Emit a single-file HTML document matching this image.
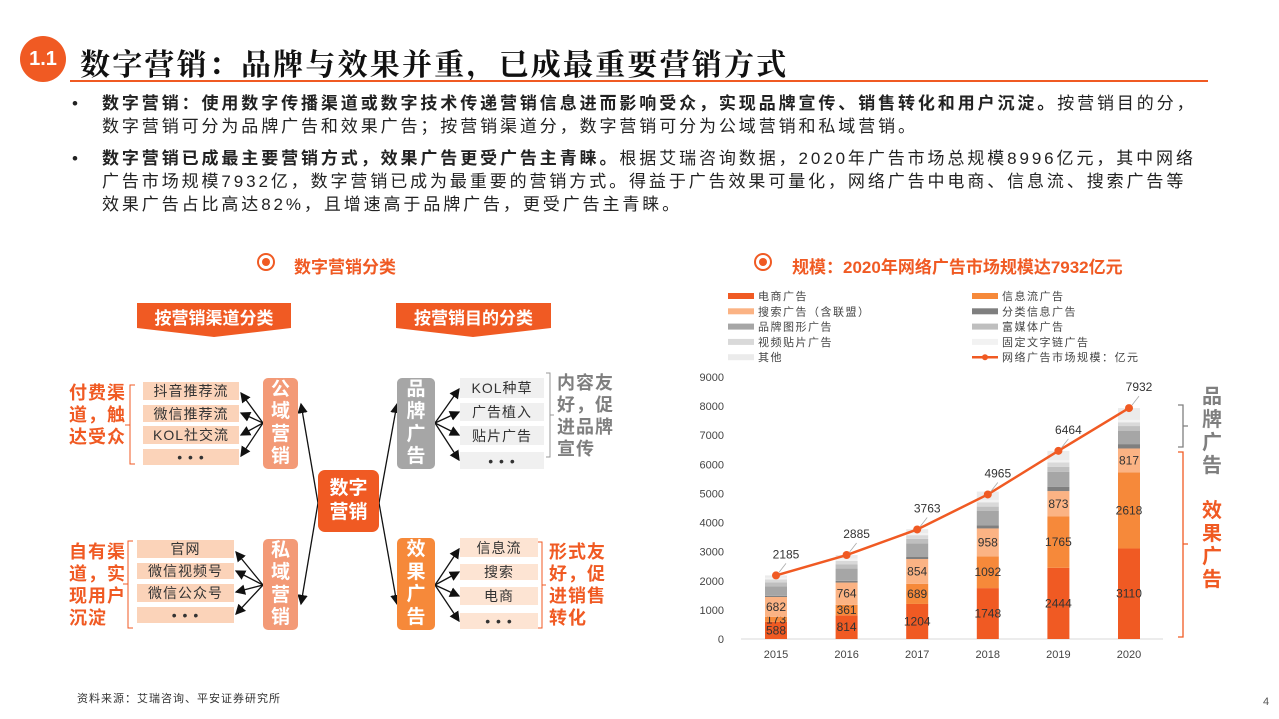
<!DOCTYPE html>
<html><head><meta charset="utf-8">
<style>
*{margin:0;padding:0;box-sizing:border-box}
body{width:1279px;height:719px;background:#fff;position:relative;overflow:hidden;font-family:"Liberation Sans","Noto Sans CJK SC",sans-serif;color:#222}
.a{position:absolute;white-space:nowrap}
.hdr{font-family:"Liberation Sans","Noto Serif CJK SC",serif}
.row{position:absolute;background:#fbd3b9;font-size:14px;text-align:center;color:#333;letter-spacing:1px;display:flex;align-items:center;justify-content:center}
.rowg{background:#f0f0f0}
.vbox{position:absolute;color:#fff;font-weight:bold;font-size:19px;line-height:20px;display:flex;flex-direction:column;align-items:center;justify-content:space-evenly;border-radius:5px}
.side{position:absolute;font-weight:bold;font-size:18px;line-height:22px;letter-spacing:1px}
.bl{font-size:17px;letter-spacing:2.9px;line-height:23px}
.dot{position:absolute;left:-30px;top:0}
</style></head><body>
<div class="a" style="left:20px;top:36px;width:46px;height:46px;border-radius:50%;background:#f05a23;color:#fff;font-weight:bold;font-size:20px;text-align:center;line-height:46px">1.1</div>
<div class="a hdr" style="left:80px;top:40px;font-size:30px;font-weight:bold;letter-spacing:2.2px;color:#111">数字营销：品牌与效果并重，已成最重要营销方式</div>
<div class="a" style="left:70px;top:80px;width:1138px;height:2px;background:#f05a23"></div>

<div class="a" style="left:102px;top:92px">
<div class="bl"><span class="dot">•</span><b>数字营销：使用数字传播渠道或数字技术传递营销信息进而影响受众，实现品牌宣传、销售转化和用户沉淀。</b>按营销目的分，</div>
<div class="bl">数字营销可分为品牌广告和效果广告；按营销渠道分，数字营销可分为公域营销和私域营销。</div>
</div>
<div class="a" style="left:102px;top:147px">
<div class="bl"><span class="dot">•</span><b>数字营销已成最主要营销方式，效果广告更受广告主青睐。</b>根据艾瑞咨询数据，2020年广告市场总规模8996亿元，其中网络</div>
<div class="bl">广告市场规模7932亿，数字营销已成为最重要的营销方式。得益于广告效果可量化，网络广告中电商、信息流、搜索广告等</div>
<div class="bl">效果广告占比高达82%，且增速高于品牌广告，更受广告主青睐。</div>
</div>

<div class="a" style="left:257px;top:253px;width:18px;height:18px;border:2px solid #f05a23;border-radius:50%"><div style="margin:3px;width:8px;height:8px;border-radius:50%;background:#f05a23"></div></div>
<div class="a" style="left:294px;top:253px;font-size:17px;font-weight:bold;color:#f05a23">数字营销分类</div>
<div class="a" style="left:754px;top:253px;width:18px;height:18px;border:2px solid #f05a23;border-radius:50%"><div style="margin:3px;width:8px;height:8px;border-radius:50%;background:#f05a23"></div></div>
<div class="a" style="left:792px;top:253px;font-size:17px;font-weight:bold;color:#f05a23">规模：2020年网络广告市场规模达7932亿元</div>

<svg class="a" style="left:0;top:0" width="700" height="719">
<defs><marker id="ar" markerWidth="8" markerHeight="8" refX="7" refY="4" orient="auto"><path d="M0,0L8,4L0,8z" fill="#111"/></marker></defs>
<polygon points="137,303 291,303 291,328 214,337 137,328" fill="#f05a23"/>
<polygon points="396,303 551,303 551,328 473,337 396,328" fill="#f05a23"/>
<g stroke="#111" stroke-width="1.3" fill="none" marker-end="url(#ar)">
<line x1="318" y1="503" x2="301" y2="404"/><line x1="318" y1="503" x2="301" y2="604"/>
<line x1="379" y1="503" x2="397" y2="404"/><line x1="379" y1="503" x2="397" y2="604"/>
<line x1="263" y1="423" x2="241" y2="393"/><line x1="263" y1="423" x2="241" y2="413"/><line x1="263" y1="423" x2="241" y2="435"/><line x1="263" y1="423" x2="241" y2="456"/>
<line x1="263" y1="585" x2="236" y2="552"/><line x1="263" y1="585" x2="236" y2="571"/><line x1="263" y1="585" x2="236" y2="592"/><line x1="263" y1="585" x2="236" y2="614"/>
<line x1="435" y1="423" x2="459" y2="389"/><line x1="435" y1="423" x2="459" y2="412"/><line x1="435" y1="423" x2="459" y2="435"/><line x1="435" y1="423" x2="459" y2="460"/>
<line x1="435" y1="585" x2="459" y2="549"/><line x1="435" y1="585" x2="459" y2="572"/><line x1="435" y1="585" x2="459" y2="596"/><line x1="435" y1="585" x2="459" y2="621"/>
</g>
<g fill="none" stroke-width="1">
<path d="M135,385H130V464H135M130,425H125" stroke="#f05a23"/>
<path d="M133,541H128V628H133M128,584H123" stroke="#f05a23"/>
<path d="M546,373H550V457H546M550,415H554" stroke="#999"/>
<path d="M538,542H542V628H538M542,585H546" stroke="#f05a23"/>
</g>
</svg>
<div class="a" style="left:137px;top:304px;width:154px;text-align:center;color:#fff;font-weight:bold;font-size:17px">按营销渠道分类</div>
<div class="a" style="left:396px;top:304px;width:155px;text-align:center;color:#fff;font-weight:bold;font-size:17px">按营销目的分类</div>

<div class="row" style="left:143px;top:382px;width:96px;height:18px">抖音推荐流</div>
<div class="row" style="left:143px;top:405px;width:96px;height:17px">微信推荐流</div>
<div class="row" style="left:143px;top:426px;width:96px;height:18px">KOL社交流</div>
<div class="row" style="left:143px;top:449px;width:96px;height:16px">• • •</div>
<div class="row" style="left:137px;top:540px;width:97px;height:18px">官网</div>
<div class="row" style="left:137px;top:563px;width:97px;height:16px">微信视频号</div>
<div class="row" style="left:137px;top:584px;width:97px;height:18px">微信公众号</div>
<div class="row" style="left:137px;top:607px;width:97px;height:16px">• • •</div>
<div class="row rowg" style="left:460px;top:378px;width:84px;height:20px">KOL种草</div>
<div class="row rowg" style="left:460px;top:403px;width:84px;height:18px">广告植入</div>
<div class="row rowg" style="left:460px;top:426px;width:84px;height:19px">贴片广告</div>
<div class="row rowg" style="left:460px;top:452px;width:84px;height:17px">• • •</div>
<div class="row" style="left:460px;top:538px;width:78px;height:19px;background:#fde4d3">信息流</div>
<div class="row" style="left:460px;top:564px;width:78px;height:16px;background:#fde4d3">搜索</div>
<div class="row" style="left:460px;top:587px;width:78px;height:18px;background:#fde4d3">电商</div>
<div class="row" style="left:460px;top:613px;width:78px;height:16px;background:#fde4d3">• • •</div>

<div class="vbox" style="left:263px;top:378px;width:35px;height:91px;background:#f39a77"><span>公</span><span>域</span><span>营</span><span>销</span></div>
<div class="vbox" style="left:263px;top:539px;width:35px;height:91px;background:#f39a77"><span>私</span><span>域</span><span>营</span><span>销</span></div>
<div class="vbox" style="left:397px;top:378px;width:38px;height:91px;background:#a6a6a6"><span>品</span><span>牌</span><span>广</span><span>告</span></div>
<div class="vbox" style="left:397px;top:538px;width:38px;height:92px;background:#f6893a"><span>效</span><span>果</span><span>广</span><span>告</span></div>
<div class="a" style="left:318px;top:470px;width:61px;height:62px;border-radius:7px;background:#f05a23;color:#fff;font-weight:bold;font-size:19px;text-align:center;line-height:24px;padding-top:7px;white-space:normal">数字<br>营销</div>

<div class="side" style="left:69px;top:382px;color:#f05a23">付费渠<br>道，触<br>达受众</div>
<div class="side" style="left:69px;top:541px;color:#f05a23">自有渠<br>道，实<br>现用户<br>沉淀</div>
<div class="side" style="left:557px;top:372px;color:#7f7f7f">内容友<br>好，促<br>进品牌<br>宣传</div>
<div class="side" style="left:549px;top:541px;color:#f05a23">形式友<br>好，促<br>进销售<br>转化</div>

<svg id="chart" class="a" style="left:0;top:0" width="1279" height="719"></svg>

<div class="a" style="left:1202px;top:386px;font-size:20px;font-weight:bold;color:#7f7f7f;line-height:23px;white-space:normal;width:22px">品牌广告</div>
<div class="a" style="left:1202px;top:500px;font-size:20px;font-weight:bold;color:#f05a23;line-height:23px;white-space:normal;width:22px">效果广告</div>

<div class="a" style="left:77px;top:690px;font-size:11px;color:#333;letter-spacing:1px">资料来源：艾瑞咨询、平安证券研究所</div>
<div class="a" style="left:1263px;top:696px;font-size:11px;color:#555">4</div>

<script>
const years = ["2015","2016","2017","2018","2019","2020"];
const ecommerce = [588,814,1204,1748,2444,3110];
const feed = [173,361,689,1092,1765,2618];
const search = [682,764,854,958,873,817];
const classified = [40,60,70,100,150,150];
const brandGraphic = [330,420,470,500,515,450];
const richMedia = [130,140,150,150,170,170];
const videoPatch = [100,120,130,150,150,130];
const fixedText = [60,80,70,80,70,80];
const other = [82,126,136,287,327,407];
const totals = [2185,2885,3763,4965,6464,7932];
const yTicks = [0,1000,2000,3000,4000,5000,6000,7000,8000,9000];
const seriesNames = ["电商广告","信息流广告","搜索广告（含联盟）","分类信息广告","品牌图形广告","富媒体广告","视频贴片广告","固定文字链广告","其他"];
const seriesColors = ["#f05a23","#f6893a","#fbb384","#7f7f7f","#a6a6a6","#bfbfbf","#d9d9d9","#f2f2f2","#ebebeb"];
const series = [ecommerce,feed,search,classified,brandGraphic,richMedia,videoPatch,fixedText,other];
const labeled = [true,true,true,false,false,false,false,false,false];

const svg = document.getElementById('chart');
const NS = "http://www.w3.org/2000/svg";
const y0 = 639, yTop = 377, yMax = 9000;
const x0 = 776, step = 70.6, bw = 22;
const yS = v => y0 - v/yMax*(y0-yTop);
const xS = i => x0 + i*step;
function mk(tag, attrs, txt){const e=document.createElementNS(NS,tag);for(const k in attrs)e.setAttribute(k,attrs[k]);if(txt!==undefined)e.textContent=txt;svg.appendChild(e);return e;}

yTicks.forEach(t=>{
  const e = mk('text',{x:724,y:yS(t)+4,'text-anchor':'end','font-size':11,fill:'#444'},t);
  
  
});
const ax = mk('line',{x1:741,y1:y0,x2:1163,y2:y0,stroke:'#d9d9d9','stroke-width':1});



years.forEach((yr,i)=>{
  let base = 0;
  series.forEach((s,k)=>{
    const v = s[i];
    const r = mk('rect',{x:xS(i)-bw/2,y:yS(base+v),width:bw,height:yS(base)-yS(base+v),fill:seriesColors[k]});
    
    
    if(labeled[k]){
      const t = mk('text',{x:xS(i),y:(yS(base)+yS(base+v))/2+4,'text-anchor':'middle','font-size':12,fill:'#333'},v);
      
      
    }
    base += v;
  });
  const xl = mk('text',{x:xS(i),y:y0+19,'text-anchor':'middle','font-size':11,fill:'#444'},yr);
  
  
});

const pts = totals.map((v,i)=>xS(i)+','+yS(v)).join(' ');
const pl = mk('polyline',{points:pts,fill:'none',stroke:'#f05a23','stroke-width':2.5});


totals.forEach((v,i)=>{
  const c = mk('circle',{cx:xS(i),cy:yS(v),r:4,fill:'#f05a23'});
  
  
  mk('line',{x1:xS(i)+3,y1:yS(v)-3,x2:xS(i)+10,y2:yS(v)-12,stroke:'#aaa','stroke-width':0.8});
  const t = mk('text',{x:xS(i)+10,y:yS(v)-17,'text-anchor':'middle','font-size':12,fill:'#333'},v);
  
  
});

const legendX = [728,972], legendY0 = 296, legendDy = 15.3;
seriesNames.forEach((n,k)=>{
  const col = k%2, row = Math.floor(k/2);
  const lx = legendX[col], ly = legendY0 + row*legendDy;
  const r = mk('rect',{x:lx,y:ly-3,width:26,height:6,fill:seriesColors[k]});
  
  
  const t = mk('text',{x:lx+30,y:ly+4,'font-size':11,fill:'#444','letter-spacing':1.5},n);
  
  
});
{
  const lx = legendX[1], ly = legendY0 + 4*legendDy;
  const l = mk('line',{x1:lx,y1:ly,x2:lx+26,y2:ly,stroke:'#f05a23','stroke-width':2.5});
  
  
  mk('circle',{cx:lx+13,cy:ly,r:3,fill:'#f05a23'});
  const t = mk('text',{x:lx+30,y:ly+4,'font-size':11,fill:'#444','letter-spacing':1.5},'网络广告市场规模：亿元');
  
  
}
const b1 = mk('path',{d:'M1178,405H1183V447H1178M1183,426H1188',fill:'none',stroke:'#7f7f7f','stroke-width':1.3});


const b2 = mk('path',{d:'M1178,452H1183V637H1178M1183,544H1188',fill:'none',stroke:'#f05a23','stroke-width':1.3});


</script>
</body></html>
